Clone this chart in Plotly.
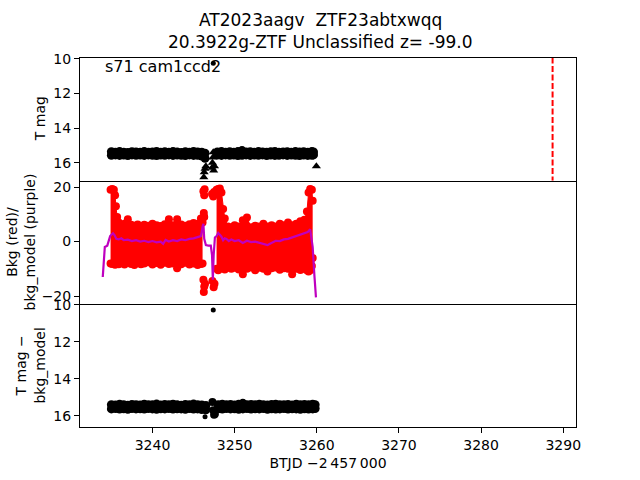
import plotly.graph_objects as go

# ---------------- data ----------------
# Top panel: T mag (two rows of the dense photometry band per segment)
t_seg1 = [3235.0, 3235.5, 3236.0, 3236.5, 3237.0, 3237.5, 3238.0, 3238.5, 3239.0, 3239.5,
          3240.0, 3240.5, 3241.0, 3241.5, 3242.0, 3242.5, 3243.0, 3243.5, 3244.0, 3244.5,
          3245.0, 3245.5, 3246.0, 3246.4]
t_seg2 = [3247.9, 3248.4, 3248.9, 3249.4, 3249.9, 3250.4, 3250.9, 3251.4, 3251.9, 3252.4,
          3252.9, 3253.4, 3253.9, 3254.4, 3254.9, 3255.4, 3255.9, 3256.4, 3256.9, 3257.4,
          3257.9, 3258.4, 3258.9, 3259.4, 3259.6]
tmag_hi_seg1 = [15.37, 15.40, 15.36, 15.39, 15.41, 15.37, 15.38, 15.40, 15.36, 15.39,
                15.38, 15.35, 15.40, 15.37, 15.39, 15.36, 15.38, 15.41, 15.37, 15.39,
                15.35, 15.38, 15.40, 15.45]
tmag_lo_seg1 = [15.57, 15.55, 15.58, 15.56, 15.59, 15.55, 15.57, 15.56, 15.58, 15.55,
                15.57, 15.59, 15.56, 15.57, 15.55, 15.58, 15.56, 15.57, 15.59, 15.55,
                15.58, 15.57, 15.62, 15.75]
tmag_hi_seg2 = [15.38, 15.36, 15.39, 15.37, 15.40, 15.36, 15.30, 15.38, 15.37, 15.39,
                15.36, 15.38, 15.40, 15.37, 15.36, 15.39, 15.38, 15.37, 15.40, 15.36,
                15.38, 15.37, 15.39, 15.36, 15.38]
tmag_lo_seg2 = [15.56, 15.58, 15.55, 15.57, 15.56, 15.59, 15.57, 15.55, 15.58, 15.56,
                15.57, 15.55, 15.59, 15.56, 15.58, 15.57, 15.55, 15.58, 15.56, 15.57,
                15.59, 15.56, 15.58, 15.57, 15.55]
# upper limits (triangles)
ul_t = [3246.25, 3246.3, 3246.4, 3246.5, 3247.25, 3247.3, 3247.35, 3247.4, 3247.45, 3247.55, 3259.95]
ul_mag = [16.85, 16.55, 16.35, 16.2, 16.3, 16.0, 15.7, 15.4, 16.45, 16.2, 16.2]
# isolated outlier
out_t = [3247.4]
out_mag = [10.25]
# discovery epoch marker
disc_t = 3288.7

# Middle panel: background flux envelope (red) and model (purple)
bkg_t_seg1 = [3234.9, 3235.1, 3235.3, 3235.45, 3235.55, 3235.7, 3235.9, 3236.2, 3236.6, 3237.0,
              3237.4, 3237.8, 3238.2, 3238.6, 3239.0, 3239.5, 3240.0, 3240.5, 3241.0, 3241.5,
              3242.0, 3242.5, 3243.0, 3243.5, 3244.0, 3244.5, 3245.0, 3245.5, 3245.9, 3246.1]
bkg_hi_seg1 = [19.0, 19.3, 19.0, 17.0, 13.0, 9.0, 7.0, 6.0, 6.5, 8.2,
               6.2, 5.8, 6.3, 5.6, 6.2, 5.8, 6.5, 6.0, 5.7, 6.4,
               8.2, 6.0, 8.2, 6.3, 5.8, 6.4, 6.8, 6.5, 8.5, 7.0]
bkg_lo_seg1 = [-8.0, -8.2, -7.8, -8.5, -8.0, -7.6, -8.3, -7.9, -8.4, -7.5,
               -8.2, -8.6, -7.7, -8.3, -8.0, -7.6, -8.4, -7.9, -8.5, -7.8,
               -8.2, -8.0, -9.8, -8.3, -7.8, -8.4, -8.0, -8.6, -8.2, -8.0]
bkg_t_seg2 = [3247.8, 3248.0, 3248.2, 3248.4, 3248.6, 3248.8, 3249.2, 3249.6, 3250.0, 3250.5,
              3251.0, 3251.5, 3252.0, 3252.5, 3253.0, 3253.5, 3254.0, 3254.5, 3255.0, 3255.5,
              3256.0, 3256.5, 3257.0, 3257.5, 3258.0, 3258.5, 3258.8, 3259.0, 3259.2, 3259.4, 3259.5]
bkg_hi_seg2 = [19.0, 19.3, 19.5, 18.0, 12.0, 8.5, 5.5, 5.2, 6.0, 5.5,
               7.8, 8.8, 5.3, 5.8, 5.5, 6.5, 5.5, 6.0, 5.5, 6.5,
               6.0, 7.0, 6.0, 6.5, 7.5, 8.0, 11.0, 18.0, 19.3, 19.0, 15.0]
bkg_lo_seg2 = [-10.0, -10.5, -10.0, -9.5, -9.8, -10.2, -9.5, -10.0, -9.6, -10.2,
               -12.0, -10.0, -9.5, -10.5, -9.6, -10.0, -11.0, -9.8, -9.5, -10.3,
               -9.8, -10.0, -12.0, -10.0, -10.4, -10.0, -10.5, -11.0, -10.5, -9.0, -6.0]
bkg_out_t = [3246.2, 3246.3, 3246.35, 3246.25, 3246.3, 3246.2, 3246.3, 3246.25, 3246.4,
             3247.25, 3247.4, 3247.5, 3247.3, 3247.45, 3247.55]
bkg_out_v = [18.5, 17.0, 19.2, 10.5, 9.0, -14.0, -16.5, -18.5, -15.5,
             17.5, 16.5, 18.2, -14.5, -16.8, -15.5]
model_t = [3233.95, 3234.1, 3234.2, 3234.5, 3234.7, 3234.85, 3235.0, 3235.2, 3235.4, 3235.6,
           3235.9, 3236.2, 3236.5, 3237.0, 3237.5, 3238.0, 3238.5, 3239.0, 3239.5, 3240.0,
           3240.5, 3241.0, 3241.3, 3241.6, 3242.0, 3242.5, 3243.0, 3243.5, 3244.0, 3244.5,
           3245.0, 3245.5, 3245.9, 3246.1, 3246.2, 3246.3, 3246.5, 3246.8, 3247.1, 3247.25,
           3247.35, 3247.45, 3247.6, 3247.8, 3248.0, 3248.2, 3248.4, 3248.6, 3248.8, 3249.0,
           3249.3, 3249.6, 3250.0, 3250.5, 3251.0, 3251.5, 3252.0, 3252.5, 3253.0, 3253.5,
           3254.0, 3254.3, 3254.6, 3255.0, 3255.5, 3256.0, 3256.5, 3257.0, 3257.5, 3258.0,
           3258.5, 3258.9, 3259.2, 3259.4, 3259.5, 3259.7, 3259.9]
model_v = [-13.0, -6.0, -2.0, -1.5, 0.5, 2.0, 2.5, 3.0, 2.3, 1.0,
           0.8, 1.2, 0.5, 0.7, 0.2, 0.5, 0.0, 0.3, -0.2, 0.2,
           -0.3, 0.0, -0.8, 0.6, 0.0, 0.5, 0.2, 0.8, 0.5, 1.0,
           1.2, 1.5, 2.0, 5.5, 6.5, 1.0, -1.3, -1.5, -1.5, -5.0,
           -14.0, -5.0, 1.5, 2.0, 3.2, 2.5, 1.8, 0.5, 1.2, 1.0,
           0.2, 0.8, 0.2, 0.5, -0.5, 0.3, -0.2, 0.0, -0.5, -0.8,
           -1.3, -0.8, -0.2, 0.3, 0.2, 0.8, 1.0, 1.5, 2.0, 2.5,
           3.0, 3.5, 4.5, 0.0, -2.0, -12.0, -20.5]

# Bottom panel: T mag - bkg_model
sub_t_seg1 = [3235.0, 3235.5, 3236.0, 3236.5, 3237.0, 3237.5, 3238.0, 3238.5, 3239.0, 3239.5,
              3240.0, 3240.5, 3241.0, 3241.5, 3242.0, 3242.5, 3243.0, 3243.5, 3244.0, 3244.5,
              3245.0, 3245.5, 3246.0, 3246.5]
sub_t_seg2 = [3248.0, 3248.5, 3249.0, 3249.5, 3250.0, 3250.5, 3251.0, 3251.5, 3252.0, 3252.5,
              3253.0, 3253.5, 3254.0, 3254.5, 3255.0, 3255.5, 3256.0, 3256.5, 3257.0, 3257.5,
              3258.0, 3258.5, 3259.0, 3259.5, 3259.8]
sub_hi_seg1 = [15.40, 15.42, 15.38, 15.41, 15.43, 15.39, 15.40, 15.42, 15.38, 15.41,
               15.40, 15.37, 15.42, 15.39, 15.41, 15.38, 15.40, 15.43, 15.39, 15.41,
               15.37, 15.40, 15.42, 15.45]
sub_lo_seg1 = [15.63, 15.61, 15.64, 15.62, 15.65, 15.61, 15.63, 15.62, 15.64, 15.61,
               15.63, 15.65, 15.62, 15.63, 15.61, 15.64, 15.62, 15.63, 15.65, 15.61,
               15.64, 15.63, 15.66, 15.68]
sub_hi_seg2 = [15.40, 15.38, 15.41, 15.39, 15.42, 15.38, 15.33, 15.40, 15.39, 15.41,
               15.38, 15.40, 15.42, 15.39, 15.38, 15.41, 15.40, 15.39, 15.42, 15.38,
               15.40, 15.39, 15.41, 15.38, 15.40]
sub_lo_seg2 = [15.62, 15.64, 15.61, 15.63, 15.62, 15.65, 15.63, 15.61, 15.64, 15.62,
               15.63, 15.61, 15.65, 15.62, 15.64, 15.63, 15.61, 15.64, 15.62, 15.63,
               15.65, 15.62, 15.64, 15.63, 15.61]
sub_gap_t = [3247.3, 3247.4, 3247.5, 3247.6]
sub_gap_v = [15.25, 15.7, 15.95, 15.9]
sub_small_t = [3247.4, 3246.4]
sub_small_v = [10.27, 16.05]

x_ticks = [3240, 3250, 3260, 3270, 3280, 3290]
title_line1 = "AT2023aagv\u00a0\u00a0ZTF23abtxwqq"
title_line2 = "20.3922g-ZTF Unclassified z= -99.0"
field_label = "s71 cam1ccd2"

# ---------------- figure ----------------
FONT = "DejaVu Sans"
fig = go.Figure()

def band(xa, ya, xref, yref, color, size):
    fig.add_trace(go.Scatter(x=xa, y=ya, mode="markers", xaxis=xref, yaxis=yref,
                             marker=dict(color=color, size=size, line=dict(width=0)),
                             showlegend=False, hoverinfo="skip"))

# top panel (x3 / y3)
for xa, ya in [(t_seg1, tmag_hi_seg1), (t_seg1, tmag_lo_seg1),
               (t_seg2, tmag_hi_seg2), (t_seg2, tmag_lo_seg2)]:
    band(xa, ya, "x3", "y3", "black", 9)
fig.add_trace(go.Scatter(x=ul_t, y=ul_mag, mode="markers", xaxis="x3", yaxis="y3",
                         marker=dict(symbol="triangle-up", color="black", size=8, line=dict(width=0)),
                         showlegend=False, hoverinfo="skip"))
band(out_t, out_mag, "x3", "y3", "black", 5)
fig.add_trace(go.Scatter(x=[disc_t, disc_t], y=[9.92, 17.05], mode="lines", xaxis="x3", yaxis="y3",
                         line=dict(color="red", width=2, dash="6px,2.5px"),
                         showlegend=False, hoverinfo="skip"))

# middle panel (x2 / y2)
for xa, lo, hi in [(bkg_t_seg1, bkg_lo_seg1, bkg_hi_seg1), (bkg_t_seg2, bkg_lo_seg2, bkg_hi_seg2)]:
    fig.add_trace(go.Scatter(x=xa, y=lo, mode="lines+markers", xaxis="x2", yaxis="y2",
                             line=dict(color="red", width=1),
                             marker=dict(color="red", size=8, line=dict(width=0)),
                             showlegend=False, hoverinfo="skip"))
    fig.add_trace(go.Scatter(x=xa, y=hi, mode="lines+markers", xaxis="x2", yaxis="y2",
                             fill="tonexty", fillcolor="red",
                             line=dict(color="red", width=1),
                             marker=dict(color="red", size=8, line=dict(width=0)),
                             showlegend=False, hoverinfo="skip"))
band(bkg_out_t, bkg_out_v, "x2", "y2", "red", 8)
fig.add_trace(go.Scatter(x=model_t, y=model_v, mode="lines", xaxis="x2", yaxis="y2",
                         line=dict(color="#BF00BF", width=2.2),
                         showlegend=False, hoverinfo="skip"))

# bottom panel (x / y)
for xa, ya in [(sub_t_seg1, sub_hi_seg1), (sub_t_seg1, sub_lo_seg1),
               (sub_t_seg2, sub_hi_seg2), (sub_t_seg2, sub_lo_seg2)]:
    band(xa, ya, "x", "y", "black", 9)
band(sub_gap_t, sub_gap_v, "x", "y", "black", 8)
band(sub_small_t, sub_small_v, "x", "y", "black", 5)

xr = [3231.18, 3291.55]
axis_common = dict(showline=True, linecolor="black", linewidth=1, automargin=False,
                   showgrid=False, zeroline=False,
                   tickfont=dict(family=FONT, size=14, color="black"))
x_dom = [0.125, 0.9]
ytick = dict(ticks="outside", ticklen=5, tickwidth=1, tickcolor="black", mirror=True)
fig.update_layout(
    width=640, height=480, margin=dict(l=0, r=0, t=0, b=0, pad=0, autoexpand=False),
    paper_bgcolor="white", plot_bgcolor="white",
    font=dict(family=FONT, color="black"),
    xaxis=dict(domain=x_dom, range=xr, tickvals=x_ticks, ticks="outside", ticklen=5, tickwidth=1,
               tickcolor="black", anchor="y", mirror=False,
               title=dict(text="BTJD \u22122\u2009457\u2009000", font=dict(family=FONT, size=14), standoff=6),
               **axis_common),
    xaxis2=dict(domain=x_dom, range=xr, showticklabels=False, ticks="", anchor="y2", matches="x",
                mirror=False, **axis_common),
    xaxis3=dict(domain=x_dom, range=xr, showticklabels=False, ticks="", anchor="y3", matches="x",
                mirror=True, **axis_common),
    yaxis=dict(domain=[0.11, 0.3667], range=[16.62, 9.95], tickvals=[10, 12, 14, 16],
               anchor="x", **ytick, **axis_common),
    yaxis2=dict(domain=[0.3667, 0.6233], range=[-22.9, 22.3], tickvals=[-20, 0, 20],
                anchor="x2", **ytick, **axis_common),
    yaxis3=dict(domain=[0.6233, 0.88], range=[17.05, 9.92], tickvals=[10, 12, 14, 16],
                anchor="x3", **ytick, **axis_common),
)

ann_font = dict(family=FONT, size=14, color="black")
fig.add_annotation(text=title_line1, x=0.5, y=1 - 20 / 480, xref="paper", yref="paper",
                   xanchor="center", yanchor="middle", showarrow=False,
                   font=dict(family=FONT, size=17, color="black"))
fig.add_annotation(text=title_line2, x=0.5, y=1 - 42 / 480, xref="paper", yref="paper",
                   xanchor="center", yanchor="middle", showarrow=False,
                   font=dict(family=FONT, size=17, color="black"))
fig.add_annotation(text=field_label, x=103 / 640, y=1 - 54.5 / 480, xref="paper", yref="paper",
                   xanchor="left", yanchor="top", showarrow=False,
                   font=dict(family=FONT, size=16, color="black"))
fig.add_annotation(text="T mag", x=40 / 640, y=1 - 119.2 / 480, xref="paper", yref="paper",
                   xanchor="center", yanchor="middle", textangle=-90, showarrow=False, font=ann_font)
fig.add_annotation(text="Bkg (red)/<br>bkg_model (purple)", x=21 / 640, y=1 - 242.4 / 480,
                   xref="paper", yref="paper", xanchor="center", yanchor="middle",
                   textangle=-90, showarrow=False, font=ann_font)
fig.add_annotation(text="T mag \u2212<br>bkg_model", x=30 / 640, y=1 - 365.6 / 480,
                   xref="paper", yref="paper", xanchor="center", yanchor="middle",
                   textangle=-90, showarrow=False, font=ann_font)

fig.write_html("out.html")
